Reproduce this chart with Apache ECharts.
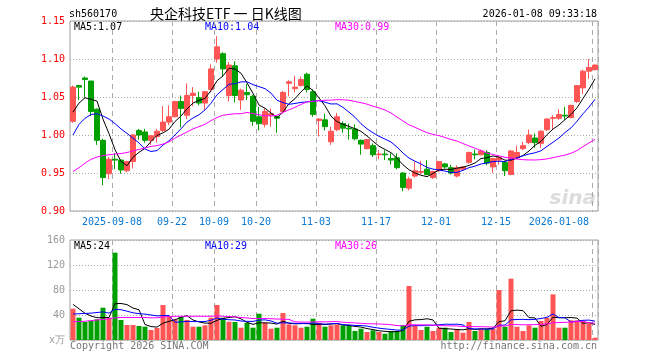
<!DOCTYPE html>
<html><head><meta charset="utf-8">
<script src="https://cdn.jsdelivr.net/npm/echarts@6/dist/echarts.min.js"></script>
<style>html,body{margin:0;padding:0;background:#fff}#c{width:660px;height:360px}</style>
</head><body><div id="c"></div>
<script>
const dates = [
"2025-08-28","2025-08-29",
"2025-09-01","2025-09-02","2025-09-03","2025-09-04","2025-09-05",
"2025-09-08","2025-09-09","2025-09-10","2025-09-11","2025-09-12",
"2025-09-15","2025-09-16","2025-09-17","2025-09-18","2025-09-19",
"2025-09-22","2025-09-23","2025-09-24","2025-09-25","2025-09-26",
"2025-09-29","2025-09-30",
"2025-10-09","2025-10-10",
"2025-10-13","2025-10-14","2025-10-15","2025-10-16","2025-10-17",
"2025-10-20","2025-10-21","2025-10-22","2025-10-23","2025-10-24",
"2025-10-27","2025-10-28","2025-10-29","2025-10-30","2025-10-31",
"2025-11-03","2025-11-04","2025-11-05","2025-11-06","2025-11-07",
"2025-11-10","2025-11-11","2025-11-12","2025-11-13","2025-11-14",
"2025-11-17","2025-11-18","2025-11-19","2025-11-20","2025-11-21",
"2025-11-24","2025-11-25","2025-11-26","2025-11-27","2025-11-28",
"2025-12-01","2025-12-02","2025-12-03","2025-12-04","2025-12-05",
"2025-12-08","2025-12-09","2025-12-10","2025-12-11","2025-12-12",
"2025-12-15","2025-12-16","2025-12-17","2025-12-18","2025-12-19",
"2025-12-22","2025-12-23","2025-12-24","2025-12-25","2025-12-26",
"2025-12-29","2025-12-30","2025-12-31",
"2026-01-05","2026-01-06","2026-01-07","2026-01-08"];

const tickLabels = {
"2025-09-08":"2025-09-08","2025-09-22":"09-22","2025-10-09":"10-09","2025-10-20":"10-20",
"2025-11-03":"11-03","2025-11-17":"11-17","2025-12-01":"12-01","2025-12-15":"12-15","2026-01-08":"2026-01-08"};

const open = [1.018,1.065,1.075,1.071,1.034,0.993,0.949,0.968,0.967,0.953,
0.965,1.006,1.004,0.993,0.998,1.006,1.017,1.024,1.044,1.026,
1.052,1.049,1.042,1.060,1.100,1.107,1.052,1.091,1.046,1.056,
1.051,1.024,1.014,1.026,1.024,1.031,1.068,1.061,1.065,1.080,
1.057,1.019,1.020,0.991,1.007,1.015,1.009,1.008,0.993,0.982,
0.986,0.974,0.975,0.969,0.970,0.950,0.930,0.946,0.951,0.955,
0.944,0.953,0.962,0.957,0.946,0.955,0.964,0.975,0.974,0.977,
0.958,0.967,0.964,0.948,0.970,0.982,0.990,0.996,0.989,1.007,
1.022,1.022,1.026,1.023,1.044,1.062,1.084,1.086];
const close = [1.063,1.063,1.073,1.031,0.993,0.944,0.968,0.967,0.954,0.965,
1.000,1.000,0.993,0.999,1.005,1.017,1.024,1.044,1.035,1.052,
1.055,1.042,1.057,1.087,1.116,1.087,1.092,1.052,1.059,1.053,
1.018,1.015,1.031,1.028,1.022,1.056,1.070,1.063,1.073,1.060,
1.027,1.021,1.011,1.005,1.024,1.009,1.008,0.995,0.988,0.994,
0.974,0.975,0.974,0.967,0.957,0.931,0.942,0.953,0.952,0.948,
0.952,0.965,0.958,0.950,0.957,0.958,0.977,0.974,0.979,0.963,
0.969,0.970,0.953,0.979,0.977,0.986,1.000,0.990,1.005,1.021,
1.023,1.027,1.025,1.039,1.065,1.084,1.089,1.092];
const low = [1.016,1.046,1.049,1.025,0.987,0.934,0.942,0.955,0.949,0.951,
0.956,0.994,0.990,0.987,0.990,1.004,1.013,1.023,1.010,1.021,
1.038,1.039,1.033,1.056,1.095,1.077,1.044,1.043,1.033,1.046,
1.012,1.006,1.010,1.011,1.003,1.028,1.051,1.056,1.064,1.056,
1.024,0.998,1.006,0.987,1.005,1.003,0.994,0.993,0.974,0.981,
0.971,0.968,0.967,0.961,0.955,0.926,0.927,0.944,0.948,0.947,
0.942,0.951,0.956,0.948,0.944,0.953,0.962,0.968,0.973,0.960,
0.950,0.961,0.946,0.947,0.968,0.980,0.988,0.983,0.983,1.005,
1.007,1.020,1.020,1.022,1.042,1.054,1.074,1.085];
const high = [1.065,1.066,1.077,1.071,1.035,0.995,0.971,0.976,0.968,0.966,
1.001,1.008,1.008,1.000,1.008,1.038,1.039,1.045,1.052,1.068,
1.063,1.057,1.058,1.093,1.130,1.109,1.096,1.097,1.061,1.067,
1.053,1.037,1.035,1.035,1.025,1.058,1.072,1.078,1.077,1.082,
1.060,1.022,1.028,1.011,1.029,1.018,1.015,1.014,0.994,0.995,
0.989,0.980,0.980,0.976,0.976,0.951,0.945,0.965,0.966,0.967,
0.953,0.966,0.963,0.961,0.960,0.959,0.978,0.981,0.981,0.980,
0.970,0.972,0.965,0.980,0.986,0.991,1.007,1.002,1.006,1.022,
1.026,1.034,1.037,1.040,1.065,1.086,1.100,1.093];
const volume = [50.1,35.7,28.8,30.4,33.1,51.7,35.7,139.7,32,24,
24,22.4,21.3,16,19.2,56,36.8,33.1,36.8,32,
21.3,21.3,23.5,35.7,56,35.7,29.3,28.8,19.7,27.7,
19.7,42.1,27.7,18.1,19.7,43.2,25,23.5,19.7,21.3,
34.1,27.7,21.3,23.5,25,23.5,22.4,14.4,18.1,12.8,
15.5,12.8,10.1,14.4,14.4,24,86.4,22.4,16,21.3,
14.4,19.7,19.7,12.8,17.1,11.7,28.8,14.4,17.1,17.1,
18.1,80,21.3,98.1,21.3,14.4,23.5,19.7,30.4,35.7,
73,19.7,19.7,31.5,31.5,30.4,26.7,3.7];

// moving-average values before each window fills
const ma5Head = [1.030,1.042,1.049,1.047];
const ma10Head = [1.000,1.014,1.022,1.027,1.028,1.025,1.021,1.015,1.008];
const ma30Head = [0.952,0.957,0.963,0.968,0.971,0.973,0.974,0.975,0.9755,0.977,0.979,0.981,0.983,0.985,0.986,0.988,0.991,0.996,1.000,1.004,1.008,1.011,1.014,1.019,1.023,1.026,1.027,1.028,1.028];
const vma5Head = [57,50,42.7,38.4];
const vma10Head = [41.6,42,42.5,43,44,45,43,49,48.5];
const vma30Head = [29.3,29.5,30,31,32,33,34,35.5,36,36,36,36,36,35.5,35.5,37,37.5,38,38,38,38,38,38,38,38.5,38,37.5,37,36];

const priceLegend = ["MA5:1.07","MA10:1.04","MA30:0.99"];
const volLegend = ["MA5:24","MA10:29","MA30:26"];

function movingAvg(vals, n, head){
  return vals.map((v,i)=>{
    if(i < n-1) return head[i];
    let s=0; for(let k=i-n+1;k<=i;k++) s+=vals[k];
    return +(s/n).toFixed(4);
  });
}

const UP='#ff5555', DOWN='#00a000';
const MONO='"DejaVu Sans Mono", monospace';
const kdata = open.map((o,i)=>[o, close[i], low[i], high[i]]);
const vdata = volume.map((v,i)=>({value:v, itemStyle:{color: close[i]>=open[i]?UP:DOWN}}));

const isTick = (i,v)=> Object.prototype.hasOwnProperty.call(tickLabels, v);
const vSplit = {show:true, interval:isTick, lineStyle:{color:'#aaa', type:[5,4], width:1}};
const hSplit = {show:true, lineStyle:{color:'#aaa', type:[1,2], width:1}};

const chart = echarts.init(document.getElementById('c'), null, {renderer:'canvas'});
chart.setOption({
  animation:false,
  backgroundColor:'#fff',
  grid:[
    {left:70, top:21, width:528, height:190, show:true, borderColor:'#a0a0a0', borderWidth:1, backgroundColor:'transparent'},
    {left:70, top:240, width:528, height:100, show:true, borderColor:'#a0a0a0', borderWidth:1, backgroundColor:'transparent'}
  ],
  xAxis:[
    {type:'category', gridIndex:0, data:dates, boundaryGap:true,
     axisLine:{show:false}, axisTick:{show:false}, splitLine:vSplit,
     axisLabel:{interval:isTick, formatter:v=>tickLabels[v]||'', color:'#0a78d2',
       fontFamily:'DejaVu Sans Mono', fontSize:10, margin:6, padding:[0,6,0,0], alignMaxLabel:'right'}},
    {type:'category', gridIndex:1, data:dates, boundaryGap:true,
     axisLine:{show:false}, axisTick:{show:false}, splitLine:vSplit, axisLabel:{show:false}}
  ],
  yAxis:[
    {type:'value', gridIndex:0, min:0.90, max:1.15, interval:0.05,
     axisLine:{show:false}, axisTick:{show:false}, splitLine:hSplit,
     axisLabel:{color:'#ff0000', fontFamily:'DejaVu Sans Mono', fontSize:10, margin:5, formatter:v=>v.toFixed(2)}},
    {type:'value', gridIndex:1, min:0, max:160, interval:40,
     axisLine:{show:false}, axisTick:{show:false}, splitLine:hSplit,
     axisLabel:{color:'#999', fontFamily:'DejaVu Sans Mono', fontSize:10, margin:5, formatter:v=>v===0?'x万':String(v)}}
  ],
  series:[
    {type:'candlestick', xAxisIndex:0, yAxisIndex:0, data:kdata, barWidth:5,
     itemStyle:{color:UP, color0:DOWN, borderColor:UP, borderColor0:DOWN, borderWidth:1}},
    {type:'line', xAxisIndex:0, yAxisIndex:0, data:movingAvg(close,5,ma5Head), symbol:'none', lineStyle:{color:'#000', width:1}},
    {type:'line', xAxisIndex:0, yAxisIndex:0, data:movingAvg(close,10,ma10Head), symbol:'none', lineStyle:{color:'#0000ff', width:1}},
    {type:'line', xAxisIndex:0, yAxisIndex:0, data:movingAvg(close,30,ma30Head), symbol:'none', lineStyle:{color:'#ff00ff', width:1}},
    {type:'bar', xAxisIndex:1, yAxisIndex:1, data:vdata, barWidth:5},
    {type:'line', xAxisIndex:1, yAxisIndex:1, data:movingAvg(volume,5,vma5Head), symbol:'none', lineStyle:{color:'#000', width:1}},
    {type:'line', xAxisIndex:1, yAxisIndex:1, data:movingAvg(volume,10,vma10Head), symbol:'none', lineStyle:{color:'#0000ff', width:1}},
    {type:'line', xAxisIndex:1, yAxisIndex:1, data:movingAvg(volume,30,vma30Head), symbol:'none', lineStyle:{color:'#ff00ff', width:1}}
  ],
  graphic:[
    {type:'text', x:69, y:14, style:{text:'sh560170', font:'10px '+MONO, fill:'#000', textVerticalAlign:'middle'}},
    {type:'text', x:150, y:14, style:{text:'央企科技ETF 一 日K线图', font:'14px "Noto Sans CJK SC"', fill:'#000', textVerticalAlign:'middle'}},
    {type:'text', x:597, y:14, style:{text:'2026-01-08 09:33:18', font:'10px '+MONO, fill:'#000', textAlign:'right', textVerticalAlign:'middle'}},
    {type:'text', x:74, y:27, style:{text:priceLegend[0], font:'10px '+MONO, fill:'#000', textVerticalAlign:'middle'}},
    {type:'text', x:205, y:27, style:{text:priceLegend[1], font:'10px '+MONO, fill:'#0000ff', textVerticalAlign:'middle'}},
    {type:'text', x:335, y:27, style:{text:priceLegend[2], font:'10px '+MONO, fill:'#ff00ff', textVerticalAlign:'middle'}},
    {type:'text', x:74, y:246, style:{text:volLegend[0], font:'10px '+MONO, fill:'#000', textVerticalAlign:'middle'}},
    {type:'text', x:205, y:246, style:{text:volLegend[1], font:'10px '+MONO, fill:'#0000ff', textVerticalAlign:'middle'}},
    {type:'text', x:335, y:246, style:{text:volLegend[2], font:'10px '+MONO, fill:'#ff00ff', textVerticalAlign:'middle'}},
    {type:'text', x:596, y:199, style:{text:'sina', font:'italic bold 20px "DejaVu Sans"', fill:'#dcdcdc', textAlign:'right', textVerticalAlign:'middle'}},
    {type:'text', x:70, y:346, style:{text:'Copyright 2026 SINA.COM', font:'10px '+MONO, fill:'#777', textVerticalAlign:'middle'}},
    {type:'text', x:597, y:346, style:{text:'http://finance.sina.com.cn', font:'10px '+MONO, fill:'#777', textAlign:'right', textVerticalAlign:'middle'}}
  ]
});
</script></body></html>
